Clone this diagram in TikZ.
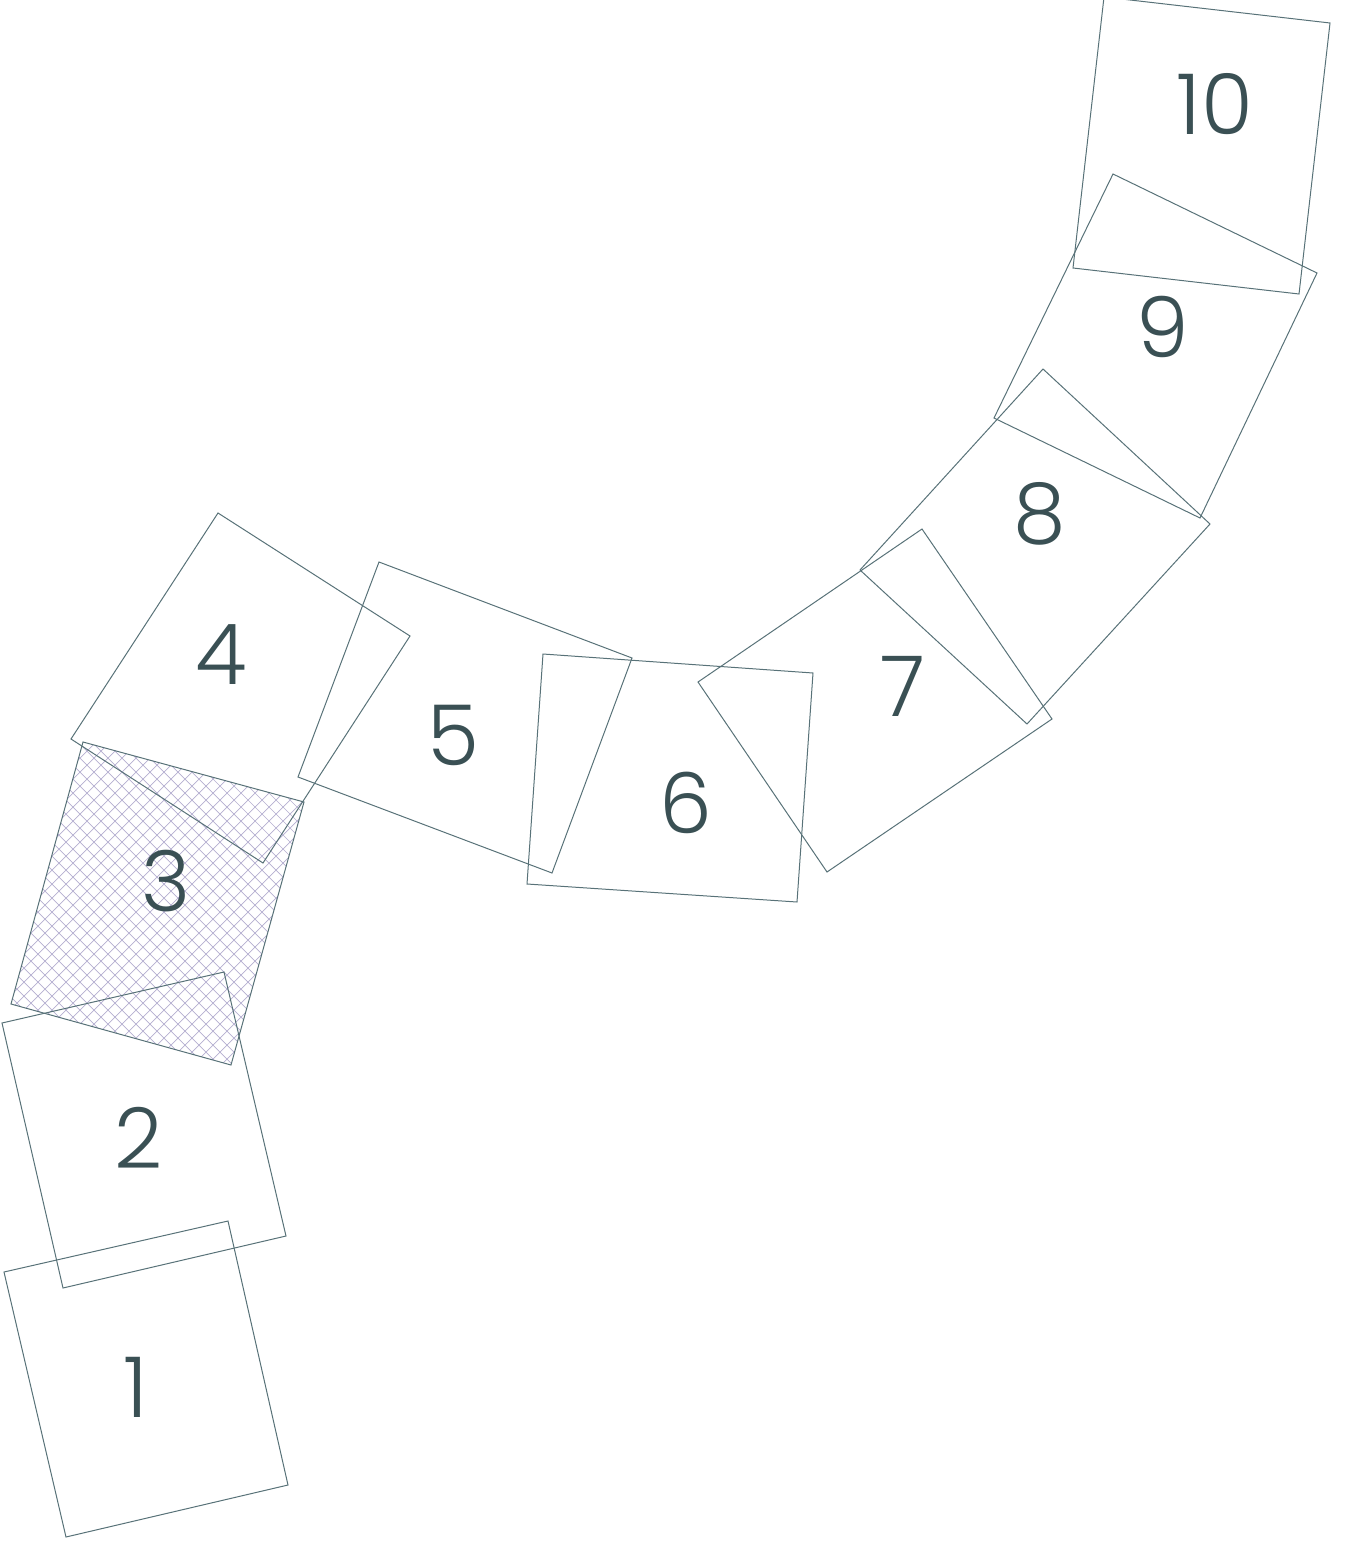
\documentclass[tikz,border=0pt]{standalone}
\usepackage{fontspec}
\setmainfont{Poppins Light}
\definecolor{edge}{RGB}{88,114,120}
\definecolor{digit}{RGB}{58,80,84}
\definecolor{hatchc}{RGB}{180,174,208}
\begin{document}
\begin{tikzpicture}[x=1pt,y=-1pt,
  card/.style={draw=edge,line width=1pt,line join=miter},
  hatchline/.style={draw=hatchc,line width=0.7pt},
  num/.style={text=digit,font=\fontsize{84}{84}\selectfont,inner sep=0pt}]
\useasboundingbox (0,0) rectangle (1362,1554);
\clip (0,0) rectangle (1362,1554);
% corners
\coordinate (a1) at (4,1272);   \coordinate (b1) at (228,1221); \coordinate (c1) at (288,1485); \coordinate (e1) at (66,1537);
\coordinate (a2) at (2,1023);   \coordinate (b2) at (224,972);  \coordinate (c2) at (286,1236); \coordinate (e2) at (63,1288);
\coordinate (a3) at (83,742);   \coordinate (b3) at (304,802);  \coordinate (c3) at (231,1065); \coordinate (e3) at (11,1004);
\coordinate (a4) at (71,739);   \coordinate (b4) at (218,513);  \coordinate (c4) at (410,636);  \coordinate (e4) at (263,863);
\coordinate (a5) at (379,562);  \coordinate (b5) at (632,658);  \coordinate (c5) at (552,873);  \coordinate (e5) at (298,777);
\coordinate (a6) at (543,654);  \coordinate (b6) at (813,673);  \coordinate (c6) at (797,902);  \coordinate (e6) at (527,884);
\coordinate (a7) at (698,682);  \coordinate (b7) at (922,529);  \coordinate (c7) at (1052,719); \coordinate (e7) at (827,872);
\coordinate (a8) at (860,570);  \coordinate (b8) at (1043,369); \coordinate (c8) at (1210,524); \coordinate (e8) at (1027,724);
\coordinate (a9) at (994,418);  \coordinate (b9) at (1113,174); \coordinate (c9) at (1317,273); \coordinate (e9) at (1200,518);
\coordinate (a10) at (1104,-3); \coordinate (b10) at (1330,23); \coordinate (c10) at (1299,294); \coordinate (e10) at (1073,268);
% hatching of card 3
\begin{scope}
  \clip (a3) -- (b3) -- (c3) -- (e3) -- cycle;
  \foreach \c in {740,754,...,1390} {
    \draw[hatchline] ({\c-700},700) -- ({\c-1100},1100);
  }
  \foreach \c in {-1070,-1056,...,-420} {
    \draw[hatchline] ({\c+700},700) -- ({\c+1100},1100);
  }
\end{scope}
% cards
\foreach \i in {1,...,10} {
  \draw[card] (a\i) -- (b\i) -- (c\i) -- (e\i) -- cycle;
}
% numbers
\node[num] (d1) at (136,1387) {1};
\node[num] (d2) at (139,1138) {2};
\node[num] (d3) at (166,881) {3};
\node[num] (d4) at (221,655) {4};
\node[num] (d5) at (453,735) {5};
\node[num] (d6) at (686,803) {6};
\node[num] (d7) at (903,686) {7};
\node[num] (d8) at (1040,514) {8};
\node[num] (d9) at (1163,327) {9};
\node[num] (d10) at (1215,104) {10};
\end{tikzpicture}
\end{document}
